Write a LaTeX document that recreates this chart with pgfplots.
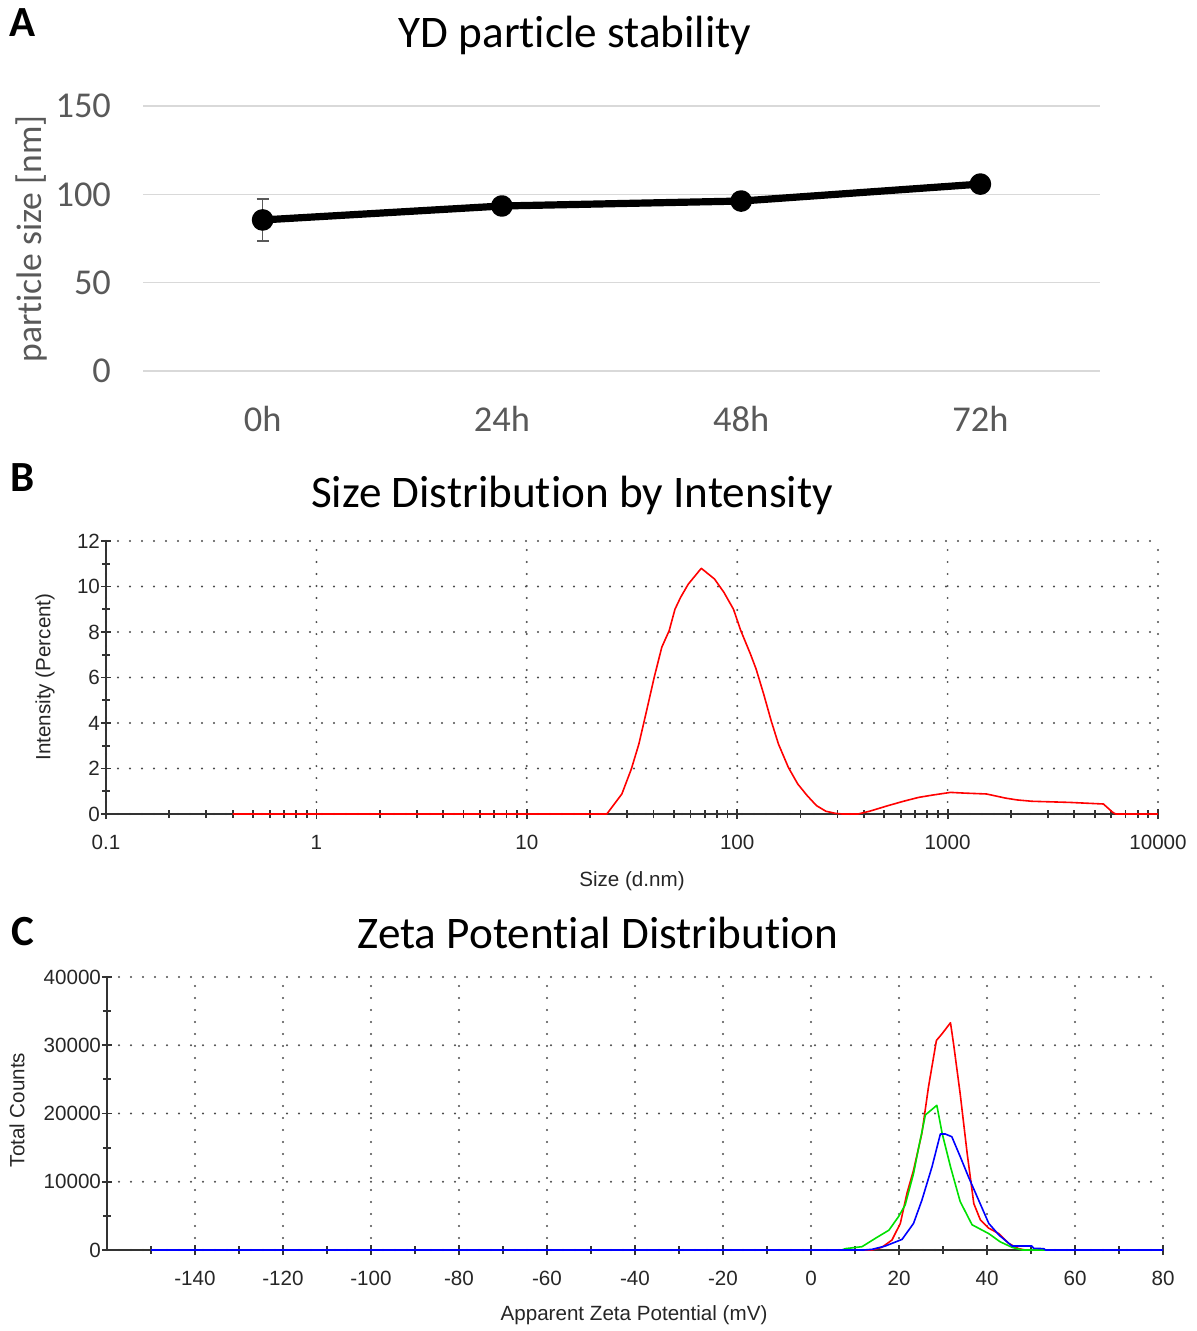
\documentclass[border=0pt]{standalone}
\usepackage{fontspec}
\setmainfont{Carlito}[Ligatures=CommonOff]
\newfontfamily\arialf{Liberation Sans}
\usepackage{pgfplots}
\pgfplotsset{compat=1.18}

\definecolor{tickgray}{HTML}{595959}
\definecolor{gridA}{HTML}{D9D9D9}
\definecolor{axdark}{HTML}{333333}
\definecolor{zgreen}{HTML}{00E000}

% style shared by the two instrument plots (B, C)
\pgfplotsset{
  instr/.style={
    scale only axis,
    axis x line*=bottom, axis y line*=left,
    axis line style={axdark, line width=1.1pt, -},
    tick align=center,
    major tick length=5pt, minor tick length=4pt,
    every tick/.style={axdark, line width=0.9pt},
    grid=major,
    major grid style={black!70, line width=1.1pt, dash pattern=on 0pt off 6pt, line cap=round},
    ticklabel style={font=\arialf\fontsize{10.3}{12}\selectfont, text=black!85},
    xticklabel style={yshift=-4.5pt},
    yticklabel style={xshift=3pt},
    clip=false,
  }
}

\begin{document}
\begin{tikzpicture}

% ---------------- A ----------------
\node[font=\bfseries\fontsize{21.5}{24}\selectfont] at (11.5pt,-11.5pt) {A};
\node[font=\fontsize{22.6}{26}\selectfont] at (287.5pt,-17.5pt) {YD particle stability};
\node[rotate=90, font=\fontsize{17.8}{20}\selectfont, text=tickgray] at (16pt,-119.5pt) {particle size [nm]};
\begin{axis}[
    scale only axis, at={(71.5pt,-185.5pt)}, anchor=south west,
    width=478.5pt, height=132.5pt,
    xmin=-0.5, xmax=3.5, ymin=0, ymax=150,
    xtick={0,1,2,3}, xticklabels={0h,24h,48h,72h},
    ytick={0,50,100,150}, yticklabels={0,50,100,150},
    axis line style={draw=none}, major tick length=0pt,
    ymajorgrids, major grid style={gridA, line width=0.8pt},
    ticklabel style={font=\fontsize{18.2}{21}\selectfont, text=tickgray},
    yticklabel style={xshift=-12.5pt}, xticklabel style={yshift=-14pt},
    clip=false,
]
\addplot[tickgray, mark=none, line width=0.8pt, forget plot,
    error bars/.cd, y dir=both, y explicit, error mark=|,
    error bar style={tickgray, line width=0.8pt},
    error mark options={tickgray, mark size=3pt, line width=0.8pt}]
    coordinates {(0,85.5) +- (0,12)};
\addplot[black, line width=3.6pt, line join=round, mark=*, mark size=3.6pt]
    coordinates {(0,85.5)(1,93.4)(2,96.2)(3,105.8)};
\end{axis}

% ---------------- B ----------------
\node[font=\bfseries\fontsize{21.5}{24}\selectfont] at (11.5pt,-239pt) {B};
\node[font=\fontsize{22.6}{26}\selectfont] at (286pt,-247.5pt) {Size Distribution by Intensity};
\node[rotate=90, font=\arialf\fontsize{10.3}{12}\selectfont, text=black!85] at (22.5pt,-338.5pt) {Intensity (Percent)};
\node[font=\arialf\fontsize{10.3}{12}\selectfont, text=black!85] at (316pt,-440.5pt) {Size (d.nm)};
\begin{axis}[
    instr, at={(53pt,-407pt)}, anchor=south west,
    width=526pt, height=136.5pt,
    xmode=log, xmin=0.1, xmax=10000, ymin=0, ymax=12,
    xtick={0.1,1,10,100,1000,10000}, xticklabels={0.1,1,10,100,1000,10000},
    minor xtick={0.2,0.3,0.4,0.5,0.6,0.7,0.8,0.9,2,3,4,5,6,7,8,9,20,30,40,50,60,70,80,90,
                 200,300,400,500,600,700,800,900,2000,3000,4000,5000,6000,7000,8000,9000},
    ytick={0,2,4,6,8,10,12}, yticklabels={0,2,4,6,8,10,12},
    minor ytick={1,3,5,7,9,11},
]
\addplot[red, line width=0.8pt, line join=round] coordinates {
    (0.4,0)(24,0)(28.3,0.88)(31.4,1.98)(34.1,3.08)(37.1,4.54)(40.3,6.0)(43.8,7.33)
    (47.5,8.06)(50.6,9.0)(53.8,9.52)(58.5,10.1)(67.5,10.8)(78,10.33)(86.5,9.74)(96,9.0)
    (104,8.06)(115.6,7.03)(123,6.37)(133.6,5.27)(145,4.1)(157,3.08)(175,2.05)(194,1.32)
    (215,0.81)(238,0.37)(264,0.12)(293,0.03)(316,0)(375,0)(425,0.12)(522,0.37)(617,0.56)
    (728,0.73)(859,0.84)(1033,0.95)(1194,0.92)(1531,0.88)(1883,0.70)(2133,0.62)(2513,0.56)
    (3800,0.51)(5500,0.44)(6100,0.07)(6300,0)(10000,0)
};
\end{axis}

% ---------------- C ----------------
\node[font=\bfseries\fontsize{21.5}{24}\selectfont] at (11.5pt,-466pt) {C};
\node[font=\fontsize{22.6}{26}\selectfont] at (299pt,-466.5pt) {Zeta Potential Distribution};
\node[rotate=90, font=\arialf\fontsize{10.3}{12}\selectfont, text=black!85] at (8.5pt,-555pt) {Total Counts};
\node[font=\arialf\fontsize{10.3}{12}\selectfont, text=black!85] at (317pt,-657.5pt) {Apparent Zeta Potential (mV)};
\begin{axis}[
    instr, at={(53.5pt,-625pt)}, anchor=south west,
    width=528pt, height=136.5pt,
    xmin=-160, xmax=80, ymin=0, ymax=40000,
    scaled y ticks=false,
    xtick={-140,-120,-100,-80,-60,-40,-20,0,20,40,60,80},
    xticklabels={-140,-120,-100,-80,-60,-40,-20,0,20,40,60,80},
    minor xtick={-150,-130,-110,-90,-70,-50,-30,-10,10,30,50,70},
    ytick={0,10000,20000,30000,40000}, yticklabels={0,10000,20000,30000,40000},
    minor ytick={5000,15000,25000,35000},
]
\addplot[red, line width=0.8pt, line join=round] coordinates {
    (-150,0)(13.9,0)(16.1,390)(18.4,1460)(20.3,3900)(21.8,8300)(23.3,11700)(25.2,17100)
    (26.7,23900)(28.5,30700)(29.8,31700)(31.7,33300)(32.4,30200)(33.9,22900)(35.5,14100)
    (37.0,6800)(38.5,4400)(40.4,3200)(42.7,2400)(44.9,975)(47.2,200)(48.7,0)(80,0)
};
\addplot[zgreen, line width=0.8pt, line join=round] coordinates {
    (-150,0)(7,0)(7.8,200)(11.6,490)(14.6,1700)(17.7,2900)(19.9,4900)(21.4,6600)(23.3,11200)
    (24.5,15100)(26,19800)(28.6,21200)(29.8,17100)(31.7,12200)(33.9,7100)(36.6,3700)
    (40.4,2400)(43,1200)(45.7,390)(48,0)(80,0)
};
\addplot[blue, line width=0.8pt, line join=round] coordinates {
    (-150,0)(12,0)(13.9,100)(16.9,585)(20.7,1560)(23.3,3900)(25.2,7300)(27.5,12200)
    (29.4,17000)(30.5,17000)(32,16600)(33.9,13700)(35.8,10700)(38.1,7300)(40.4,3900)
    (42.7,2200)(45.7,585)(50.2,585)(50.6,250)(52.9,200)(53.3,0)(80,0)
};
\end{axis}

\pgfresetboundingbox
\path[use as bounding box] (0,0) rectangle (598pt,-665.5pt);
\end{tikzpicture}
\end{document}
